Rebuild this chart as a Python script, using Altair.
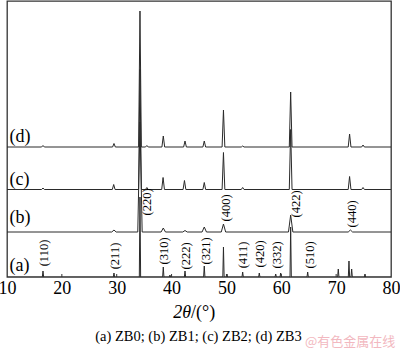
import altair as alt
import pandas as pd

# ---- data (2θ in degrees, intensities in arbitrary units) ----
trace_names = ["(a)", "(b)", "(c)", "(d)"]
trace_offsets = [0, 45, 87.5, 130]
trace_widths = [0.12, 0.4, 0.25, 0.25]

peaks_a_pos = [16.56, 29.50, 34.24, 38.49, 39.7, 42.45, 45.96, 49.46, 50.10, 52.96,
               55.99, 58.98, 59.89, 61.71, 64.81, 70.39, 72.34, 72.83, 75.26]
peaks_a_h = [6, 4, 80, 10, 2, 6, 11, 30, 3, 5, 4, 3, 4, 50, 5, 8, 16, 8, 3]

peaks_b_pos = [29.50, 34.24, 38.49, 42.45, 45.96, 49.46, 61.71, 72.6]
peaks_b_h = [2, 110, 4, 1.5, 5, 8, 17, 2]

peaks_c_pos = [16.56, 29.45, 34.24, 35.5, 38.45, 42.35, 45.96, 49.46, 52.96, 61.71, 72.45, 74.9]
peaks_c_h = [1.5, 5, 120, 2, 12, 9, 7, 37, 2, 60, 13, 2]

peaks_d_pos = [16.56, 29.5, 34.24, 35.5, 38.49, 42.45, 45.96, 49.46, 52.96, 61.71, 72.45, 74.9]
peaks_d_h = [1.5, 3.5, 136, 1.5, 11, 6, 6, 37, 1, 55, 13, 2]

label_y = [6, 54, 92, 135]

hkl_labels = ["(110)", "(211)", "(220)", "(310)", "(222)", "(321)", "(400)",
              "(411)", "(420)", "(332)", "(422)", "(510)", "(440)"]
hkl_x = [16.74, 29.69, 35.46, 38.71, 42.63, 46.27, 49.92, 52.96, 56.12, 59.16, 62.68, 65.23, 72.83]
hkl_y = [24, 21, 75, 26, 21, 26, 69, 22, 23, 22, 73, 22, 63]

x_ticks = [10, 20, 30, 40, 50, 60, 70, 80]
inner_ticks = [20, 30, 40, 50, 60, 70]

caption = "(a) ZB0; (b) ZB1; (c) ZB2; (d) ZB3"
watermark = "@有色金属在线"

# ---- build line table ----
rows = []
all_peaks = [(peaks_a_pos, peaks_a_h), (peaks_b_pos, peaks_b_h),
             (peaks_c_pos, peaks_c_h), (peaks_d_pos, peaks_d_h)]
for name, off, w, (pos, hts) in zip(trace_names, trace_offsets, trace_widths, all_peaks):
    pts = [(10, off)]
    for p, h in zip(pos, hts):
        pts += [(p - w, off), (p, off + h), (p + w, off)]
    pts.append((80, off))
    for i, (xx, yy) in enumerate(pts):
        rows.append({"trace": name, "x": xx, "y": yy, "o": i})
lines_df = pd.DataFrame(rows)

xs = alt.Scale(domain=[10, 80], nice=False, zero=False)
ys = alt.Scale(domain=[0, 276], nice=False, zero=False)
SERIF = "Liberation Serif"

lines = alt.Chart(lines_df).mark_line(strokeWidth=1, color="#2a2a2a", clip=True).encode(
    x=alt.X("x:Q", scale=xs, axis=alt.Axis(values=x_ticks, title=None, grid=False, ticks=False,
                                           domain=False, tickSize=0, labelPadding=2,
                                           labelFont=SERIF, labelFontSize=18, labelColor="black",
                                           labelFlush=False, labelOverlap=False)),
    y=alt.Y("y:Q", scale=ys, axis=None),
    detail="trace:N",
    order="o:Q",
)

ticks = alt.Chart(pd.DataFrame({"t": inner_ticks, "y0": [0] * len(inner_ticks),
                                "y1": [3] * len(inner_ticks)})).mark_rule(color="#333", strokeWidth=1).encode(
    x=alt.X("t:Q", scale=xs), y=alt.Y("y0:Q", scale=ys), y2="y1:Q")

trace_labels = alt.Chart(pd.DataFrame({"lab": trace_names, "x": [10.45] * 4, "y": label_y})).mark_text(
    font=SERIF, fontSize=18, align="left", baseline="alphabetic", color="black").encode(
    x=alt.X("x:Q", scale=xs), y=alt.Y("y:Q", scale=ys), text="lab:N")

hkl = alt.Chart(pd.DataFrame({"lab": hkl_labels, "x": hkl_x, "y": hkl_y})).mark_text(
    font=SERIF, fontSize=12.5, angle=270, align="center", baseline="middle", color="black").encode(
    x=alt.X("x:Q", scale=xs), y=alt.Y("y:Q", scale=ys), text="lab:N")

one = pd.DataFrame({"a": [0]})
t_2theta = alt.Chart(one).mark_text(font=SERIF, fontSize=18, fontStyle="italic", align="right",
                                    baseline="alphabetic", color="black", text="2θ").encode(
    x=alt.value(184), y=alt.value(317))
t_unit = alt.Chart(one).mark_text(font=SERIF, fontSize=18, align="left",
                                  baseline="alphabetic", color="black", text="/(°)").encode(
    x=alt.value(184), y=alt.value(317))
t_caption = alt.Chart(one).mark_text(font=SERIF, fontSize=14.5, align="center",
                                     baseline="alphabetic", color="black", text=caption).encode(
    x=alt.value(191.5), y=alt.value(340))
t_wm = alt.Chart(one).mark_text(font="Noto Sans CJK SC", fontSize=13, align="left",
                                baseline="alphabetic", color="#f2b8c0", text=watermark).encode(
    x=alt.value(298), y=alt.value(345))

chart = alt.layer(lines, ticks, trace_labels, hkl, t_2theta, t_unit, t_caption, t_wm).properties(
    width=384, height=276,
    autosize=alt.AutoSizeParams(type="none"),
    padding={"left": 7, "top": 1, "right": 9, "bottom": 72},
    background="white",
).configure_view(stroke="#333", strokeWidth=1.3)

chart.save("out.html", embed_options={"renderer": "svg", "actions": False})
